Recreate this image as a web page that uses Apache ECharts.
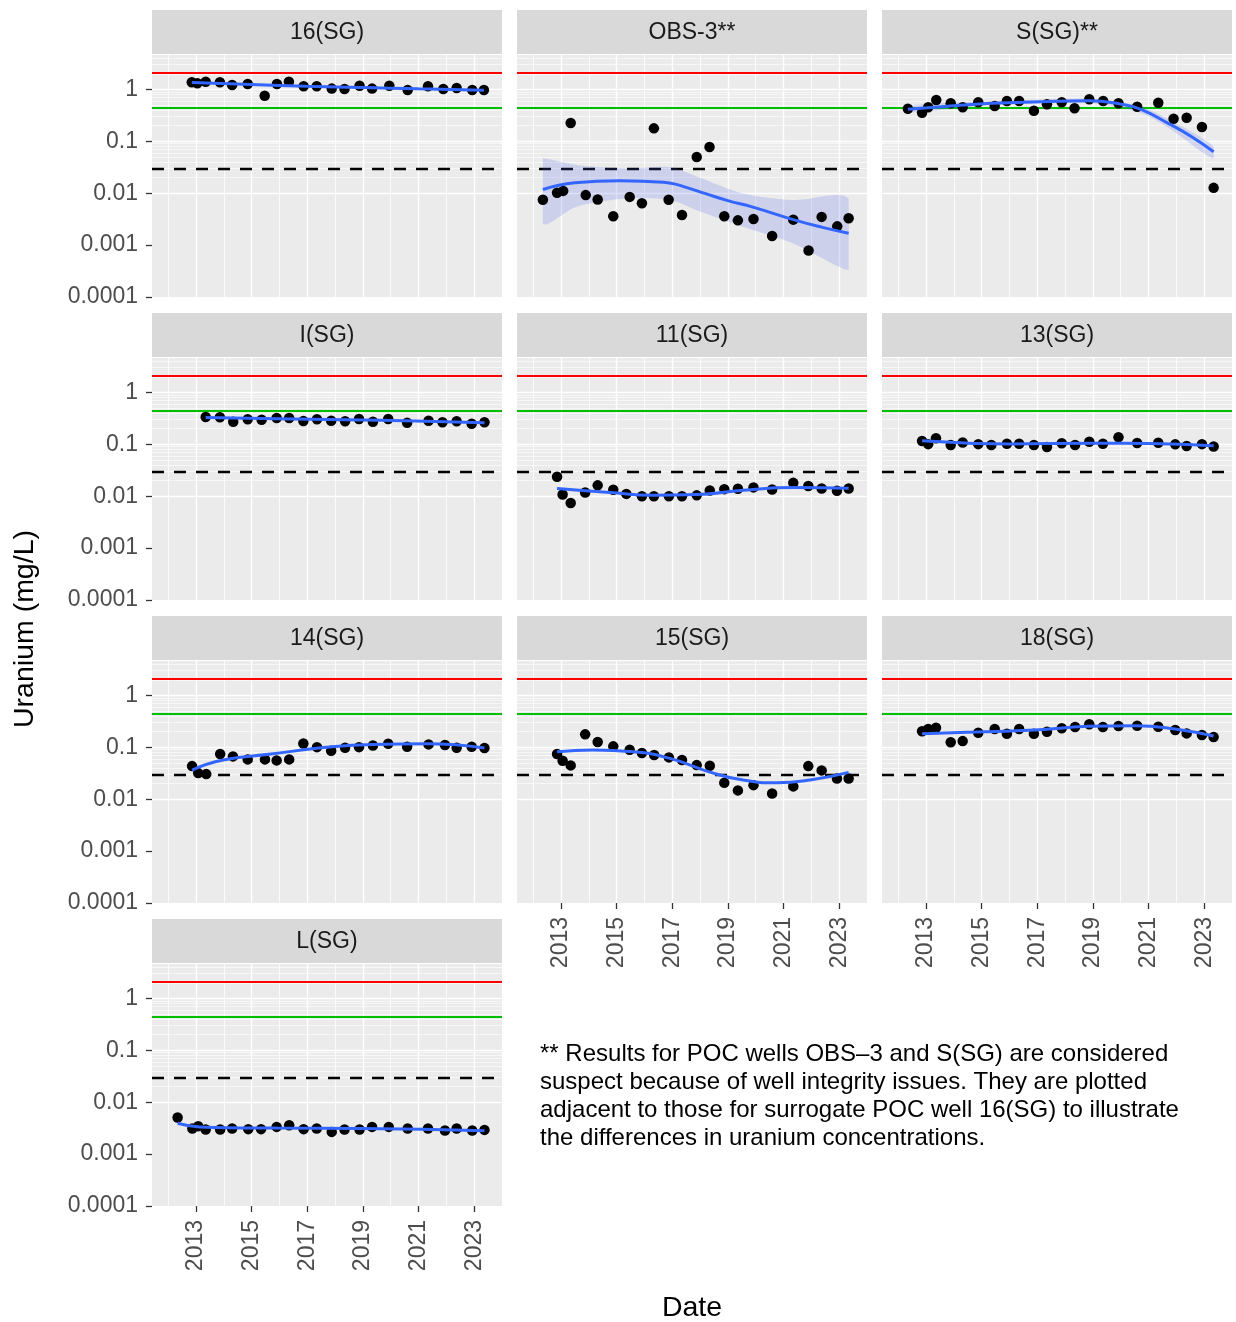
<!DOCTYPE html>
<html><head><meta charset="utf-8">
<script src="https://cdn.jsdelivr.net/npm/echarts@6/dist/echarts.min.js"></script>
<style>html,body{margin:0;padding:0;background:#fff}#c{width:1236px;height:1322px}</style>
</head><body><div id="c"></div>
<script>
// ---------------- DATA ----------------
const panelNames = ['16(SG)','OBS-3**','S(SG)**','I(SG)','11(SG)','13(SG)','14(SG)','15(SG)','18(SG)','L(SG)'];
const xTickYears = [2013,2015,2017,2019,2021,2023];
const gridYears = [2012,2013,2014,2015,2016,2017,2018,2019,2020,2021,2022,2023];
const yTickValues = [0.0001,0.001,0.01,0.1,1];
const minorFactors = [2,3,4,5,6,7,8,9];
const refRed = 2.1, refGreen = 0.44, refDashed = 0.03;

// 16(SG)
const t16 = [2012.85,2013.05,2013.35,2013.86,2014.30,2014.86,2015.47,2015.91,2016.34,2016.87,2017.34,2017.88,2018.34,2018.88,2019.33,2019.95,2020.61,2021.34,2021.89,2022.37,2022.93,2023.35];
const u16 = [1.38,1.32,1.41,1.38,1.22,1.28,0.76,1.28,1.41,1.15,1.15,1.04,1.02,1.18,1.04,1.18,0.98,1.15,1.02,1.07,0.98,0.98];
const st16 = [2012.85,2015,2017,2019,2021,2023.35];
const sv16 = [1.37,1.25,1.15,1.09,1.03,0.97];
// OBS-3**
const tOBS = [2012.35,2012.86,2013.08,2013.35,2013.89,2014.32,2014.88,2015.47,2015.91,2016.34,2016.87,2017.35,2017.88,2018.34,2018.87,2019.36,2019.92,2020.59,2021.35,2021.90,2022.37,2022.93,2023.34];
const uOBS = [0.0075,0.0102,0.0111,0.226,0.0092,0.0076,0.0036,0.0085,0.0064,0.178,0.0075,0.0038,0.050,0.078,0.0036,0.0030,0.0032,0.0015,0.0031,0.00079,0.0035,0.0023,0.0033];
const stOBS = [2012.35,2013.5,2015.1,2016.3,2016.9,2017.5,2018.2,2019.0,2019.9,2021.35,2022.4,2023.34];
const svOBS = [0.0118,0.0160,0.0174,0.0166,0.0157,0.0130,0.0098,0.0072,0.0054,0.0031,0.0022,0.0017];
const btOBS = [2012.35,2013.56,2015.36,2016.92,2017.88,2019.55,2021.35,2023.34];
const buOBS = [0.047,0.035,0.030,0.032,0.021,0.0099,0.0074,0.0079];
const blOBS = [0.0026,0.0055,0.0079,0.0074,0.0047,0.00225,0.00107,0.00033];
// S(SG)**
const tS = [2012.35,2012.86,2013.08,2013.37,2013.89,2014.32,2014.88,2015.47,2015.91,2016.35,2016.88,2017.35,2017.88,2018.34,2018.87,2019.37,2019.92,2020.59,2021.35,2021.90,2022.37,2022.92,2023.34];
const uS = [0.426,0.356,0.453,0.627,0.542,0.453,0.566,0.480,0.600,0.600,0.390,0.518,0.566,0.434,0.647,0.600,0.542,0.466,0.556,0.273,0.286,0.189,0.0127];
const stS = [2012.35,2013.56,2015.36,2017.16,2018.83,2020.03,2020.75,2021.71,2022.55,2023.34];
const svS = [0.415,0.466,0.542,0.581,0.608,0.520,0.410,0.222,0.123,0.063];
const btS = [2012.35,2015.4,2018.8,2020.75,2021.7,2023.34];
const buS = [0.48,0.59,0.67,0.46,0.27,0.080];
const blS = [0.36,0.50,0.55,0.35,0.185,0.046];
// I(SG)
const tI = [2013.35,2013.86,2014.34,2014.86,2015.36,2015.90,2016.35,2016.86,2017.35,2017.86,2018.36,2018.86,2019.36,2019.91,2020.59,2021.36,2021.86,2022.37,2022.91,2023.37];
const uI = [0.336,0.332,0.273,0.304,0.299,0.322,0.322,0.282,0.304,0.286,0.278,0.308,0.273,0.308,0.261,0.286,0.266,0.278,0.250,0.266];
const stI = [2013.35,2015.9,2018.36,2020.9,2023.37];
const svI = [0.330,0.313,0.298,0.283,0.262];
// 11(SG)
const t11 = [2012.86,2013.06,2013.35,2013.87,2014.32,2014.88,2015.35,2015.91,2016.34,2016.88,2017.35,2017.88,2018.35,2018.87,2019.36,2019.92,2020.59,2021.35,2021.89,2022.37,2022.92,2023.34];
const u11 = [0.0237,0.0108,0.0074,0.0118,0.0162,0.0133,0.0111,0.0100,0.0100,0.0100,0.0100,0.0104,0.0129,0.0137,0.0139,0.0148,0.0135,0.0181,0.0157,0.0141,0.0127,0.0141];
const st11 = [2012.86,2014.76,2016.32,2017.88,2019.55,2021.35,2023.34];
const sv11 = [0.0141,0.0118,0.0105,0.0108,0.0131,0.0147,0.0143];
// 13(SG)
const t13 = [2012.86,2013.08,2013.36,2013.89,2014.32,2014.88,2015.35,2015.91,2016.35,2016.88,2017.35,2017.88,2018.36,2018.87,2019.36,2019.92,2020.59,2021.35,2021.96,2022.37,2022.92,2023.34];
const u13 = [0.116,0.101,0.131,0.097,0.109,0.101,0.097,0.103,0.103,0.097,0.089,0.105,0.097,0.112,0.103,0.137,0.106,0.107,0.100,0.093,0.101,0.091];
const st13 = [2012.86,2016,2019,2021,2023.34];
const sv13 = [0.117,0.102,0.105,0.104,0.094];
// 14(SG)
const t14 = [2012.86,2013.08,2013.37,2013.87,2014.33,2014.86,2015.48,2015.90,2016.35,2016.86,2017.35,2017.86,2018.36,2018.86,2019.36,2019.91,2020.59,2021.36,2021.95,2022.37,2022.91,2023.37];
const u14 = [0.0435,0.0319,0.0305,0.0743,0.0670,0.0586,0.0586,0.0561,0.0586,0.119,0.101,0.086,0.098,0.101,0.109,0.117,0.103,0.114,0.111,0.098,0.103,0.097];
const st14 = [2012.86,2013.98,2015.78,2017.34,2019.37,2021.29,2023.37];
const sv14 = [0.0366,0.0569,0.075,0.0957,0.114,0.117,0.097];
// 15(SG)
const t15 = [2012.86,2013.06,2013.35,2013.87,2014.32,2014.88,2015.47,2015.91,2016.35,2016.88,2017.35,2017.88,2018.35,2018.87,2019.36,2019.92,2020.59,2021.35,2021.89,2022.37,2022.92,2023.34];
const u15 = [0.0743,0.0551,0.0449,0.178,0.127,0.1045,0.090,0.0776,0.071,0.0641,0.0569,0.0455,0.0441,0.0207,0.0148,0.0187,0.0129,0.0177,0.0435,0.036,0.0252,0.0252];
const st15 = [2012.86,2014.16,2015.6,2016.92,2018.35,2019.55,2020.75,2021.95,2023.34];
const sv15 = [0.0822,0.0887,0.0822,0.0612,0.0334,0.0234,0.0207,0.0234,0.0330];
// 18(SG)
const t18 = [2012.86,2013.08,2013.36,2013.89,2014.32,2014.88,2015.47,2015.91,2016.35,2016.88,2017.35,2017.88,2018.36,2018.87,2019.36,2019.92,2020.59,2021.35,2021.96,2022.37,2022.92,2023.34];
const u18 = [0.204,0.226,0.239,0.125,0.132,0.191,0.226,0.183,0.226,0.183,0.200,0.233,0.247,0.278,0.247,0.258,0.261,0.250,0.216,0.186,0.173,0.158];
const st18 = [2012.86,2014.77,2016.92,2018.83,2020.51,2021.95,2023.34];
const sv18 = [0.183,0.197,0.216,0.254,0.261,0.226,0.165];
// L(SG)
const tL = [2012.34,2012.87,2013.08,2013.35,2013.87,2014.30,2014.88,2015.34,2015.90,2016.35,2016.87,2017.34,2017.88,2018.34,2018.88,2019.33,2019.93,2020.61,2021.34,2021.95,2022.37,2022.93,2023.37];
const uL = [0.00509,0.00312,0.00346,0.00298,0.00298,0.00312,0.00303,0.00303,0.00335,0.00361,0.00303,0.00312,0.00268,0.00298,0.00298,0.00335,0.00335,0.00312,0.00312,0.00286,0.00312,0.00286,0.00293];
const stL = [2012.34,2013.14,2015.9,2018.9,2023.37];
const svL = [0.00393,0.00335,0.00318,0.00313,0.00281];

const annotation = '** Results for POC wells OBS\u20133 and S(SG) are considered\nsuspect because of well integrity issues. They are plotted\nadjacent to those for surrogate POC well 16(SG) to illustrate\nthe differences in uranium concentrations.';

// ---------------- BUILD ----------------
const panels = [
  {t:t16,u:u16,st:st16,sv:sv16},
  {t:tOBS,u:uOBS,st:stOBS,sv:svOBS,bt:btOBS,bu:buOBS,bl:blOBS},
  {t:tS,u:uS,st:stS,sv:svS,bt:btS,bu:buS,bl:blS},
  {t:tI,u:uI,st:stI,sv:svI},
  {t:t11,u:u11,st:st11,sv:sv11},
  {t:t13,u:u13,st:st13,sv:sv13},
  {t:t14,u:u14,st:st14,sv:sv14},
  {t:t15,u:u15,st:st15,sv:sv15},
  {t:t18,u:u18,st:st18,sv:sv18},
  {t:tL,u:uL,st:stL,sv:svL}
];
const FONT = 'Liberation Sans, Arial, Helvetica, sans-serif';
const colLeft = [152,517,882], rowTop = [55,358,661,964], W = 350, H = 242;
const xMin = 2011.42, xMax = 2024.0, yMin = 0.0001, yMax = 4.62;
const xLabelPanels = [7,8,9];

function fmtLog(v){
  const l = Math.log10(v), e = Math.round(l);
  if (Math.abs(l - e) > 0.01) return '';
  return e >= 0 ? String(Math.pow(10,e)) : '0.' + '0'.repeat(-e-1) + '1';
}

const grids = [], xAxes = [], yAxes = [], series = [], graphics = [];
panels.forEach((p, i) => {
  const col = i % 3, row = Math.floor(i / 3);
  const left = colLeft[col], top = rowTop[row];
  const showY = col === 0, showX = xLabelPanels.includes(i);
  grids.push({left, top, width:W, height:H, show:true, backgroundColor:'#EBEBEB', borderWidth:0, containLabel:false});
  xAxes.push({type:'value', gridIndex:i, min:xMin, max:xMax,
    axisLine:{show:false}, splitLine:{show:false},
    axisTick:{show:showX, customValues:xTickYears, length:6, lineStyle:{color:'#333', width:1.3}},
    axisLabel:{show:showX, customValues:xTickYears, formatter:v => String(Math.round(v)), rotate:90, margin:14, fontSize:23, color:'#4D4D4D', fontFamily:FONT}});
  yAxes.push({type:'log', logBase:10, gridIndex:i, min:yMin, max:yMax,
    axisLine:{show:false}, splitLine:{show:false},
    axisTick:{show:showY, customValues:yTickValues, length:6, lineStyle:{color:'#333', width:1.3}},
    axisLabel:{show:showY, formatter:fmtLog, margin:14, fontSize:23, color:'#4D4D4D', fontFamily:FONT}});

  // background grid lines (white), drawn via the axes' scales
  const gl = [];
  gridYears.forEach(y => gl.push({xAxis:y, lineStyle:{color:'#fff', width:(y % 2 === 1) ? 1.4 : 0.8, type:'solid'}}));
  yTickValues.forEach(v => {
    gl.push({yAxis:v, lineStyle:{color:'#fff', width:1.4, type:'solid'}});
    minorFactors.forEach(f => { if (v*f < yMax) gl.push({yAxis:v*f, lineStyle:{color:'#fff', width:0.7, type:'solid', opacity:0.85}}); });
  });
  series.push({type:'line', xAxisIndex:i, yAxisIndex:i, data:[], silent:true, z:1, animation:false,
    markLine:{z:1, silent:true, symbol:'none', animation:false, label:{show:false}, emphasis:{disabled:true}, data:gl}});
  // reference lines
  series.push({type:'line', xAxisIndex:i, yAxisIndex:i, data:[], silent:true, z:2, animation:false,
    markLine:{z:2, silent:true, symbol:'none', animation:false, label:{show:false}, emphasis:{disabled:true}, data:[
      {yAxis:refRed, lineStyle:{color:'#FF0000', width:2.2, type:'solid'}},
      {yAxis:refGreen, lineStyle:{color:'#00C000', width:2.2, type:'solid'}},
      {yAxis:refDashed, lineStyle:{color:'#000', width:2.4, type:[12,10]}}
    ]}});
  // confidence band
  if (p.bt) {
    series.push({type:'custom', xAxisIndex:i, yAxisIndex:i, data:[[2015, 0.01]], silent:true, z:3, animation:false, clip:true,
      renderItem:(params, api) => {
        const pts = [];
        for (let k = 0; k < p.bt.length; k++) pts.push(api.coord([p.bt[k], p.bu[k]]));
        for (let k = p.bt.length - 1; k >= 0; k--) pts.push(api.coord([p.bt[k], p.bl[k]]));
        const xs = pts.map(q => q[0]), ys = pts.map(q => q[1]);
        const box = [[Math.min(...xs), Math.min(...ys)], [Math.max(...xs), Math.max(...ys)]];
        return {type:'polygon', shape:{points:pts, smooth:0.3, smoothConstraint:box}, style:{fill:'rgba(80,100,235,0.2)'}};
      }});
  }
  series.push({type:'scatter', xAxisIndex:i, yAxisIndex:i, symbolSize:10.5, silent:true, z:4, animation:false,
    itemStyle:{color:'#000', opacity:1}, data:p.t.map((x,k) => [x, p.u[k]])});
  series.push({type:'line', xAxisIndex:i, yAxisIndex:i, smooth:0.5, symbol:'none', silent:true, z:5, animation:false,
    lineStyle:{color:'#3366FF', width:3}, data:p.st.map((x,k) => [x, p.sv[k]])});

  // facet strip
  graphics.push({type:'rect', left:left, top:top-45, shape:{width:W, height:44}, style:{fill:'#D9D9D9'}, silent:true});
  graphics.push({type:'text', x:left + W/2, y:top-22, silent:true,
    style:{text:panelNames[i], font:'23px ' + FONT, fill:'#1A1A1A', align:'center', verticalAlign:'middle'}});
});

graphics.push({type:'text', x:25, y:629, rotation:Math.PI/2, silent:true,
  style:{text:'Uranium (mg/L)', font:'28.5px ' + FONT, fill:'#000', align:'center', verticalAlign:'middle'}});
graphics.push({type:'text', x:692, y:1308, silent:true,
  style:{text:'Date', font:'28.5px ' + FONT, fill:'#000', align:'center', verticalAlign:'middle'}});
graphics.push({type:'text', x:540, y:1041, silent:true,
  style:{text:annotation, font:'24px ' + FONT, fill:'#000', align:'left', verticalAlign:'top', lineHeight:27.7}});

const chart = echarts.init(document.getElementById('c'), null, {renderer:'canvas'});
chart.setOption({
  animation:false,
  backgroundColor:'#fff',
  textStyle:{fontFamily:FONT},
  grid:grids, xAxis:xAxes, yAxis:yAxes, series:series, graphic:graphics
});
</script></body></html>
